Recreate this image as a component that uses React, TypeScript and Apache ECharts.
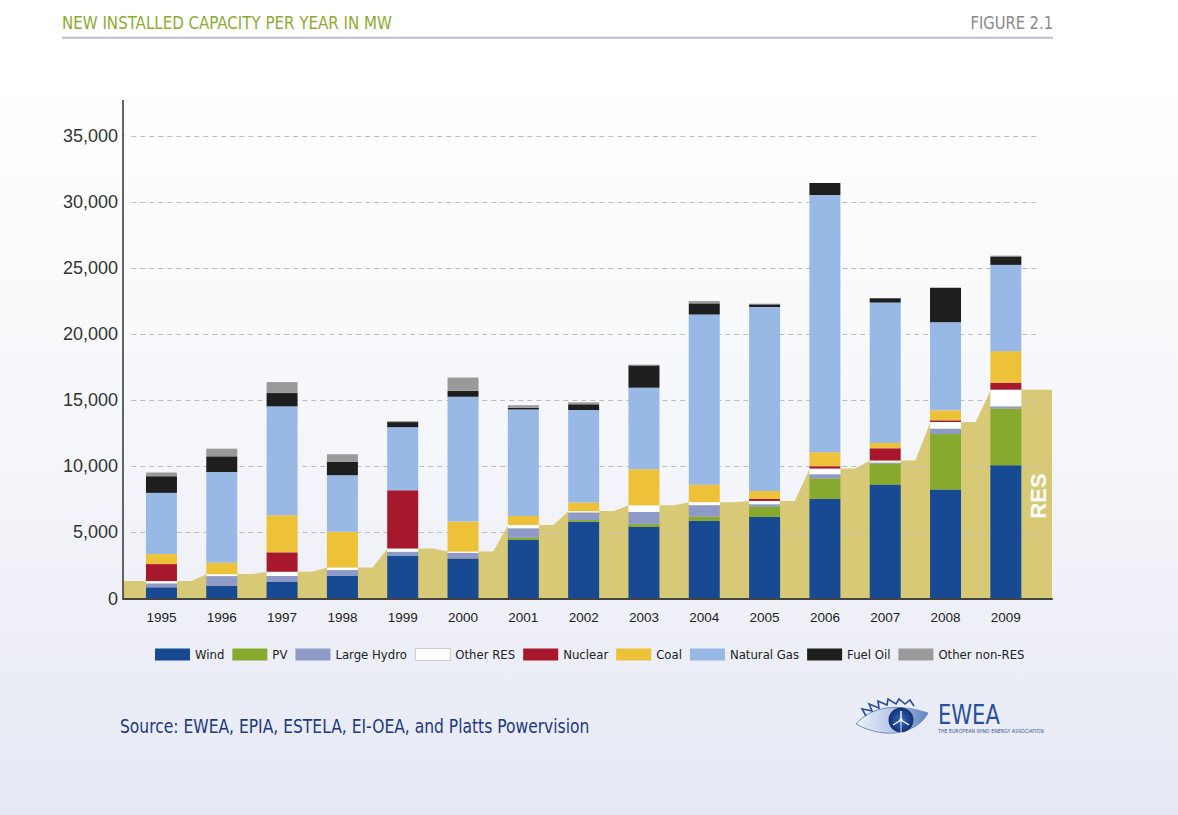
import React, { useEffect, useRef } from 'react';
import * as echarts from 'echarts';

// ---------- data (MW of new installed capacity per year) ----------
const years = ['1995', '1996', '1997', '1998', '1999', '2000', '2001', '2002', '2003', '2004', '2005', '2006', '2007', '2008', '2009'];
const wind = [845, 965, 1270, 1700, 3210, 3035, 4420, 5800, 5420, 5890, 6175, 7535, 8620, 8245, 10080];
const pv = [0, 0, 0, 0, 0, 0, 175, 130, 200, 300, 755, 1540, 1585, 4200, 4280];
const largeHydro = [300, 730, 430, 453, 325, 420, 710, 580, 930, 870, 200, 325, 80, 405, 175];
const otherRes = [175, 150, 325, 200, 250, 100, 250, 100, 505, 230, 250, 430, 150, 500, 1260];
const nuclear = [1285, 0, 1465, 0, 4400, 0, 0, 0, 0, 0, 150, 175, 930, 130, 530];
const coal = [755, 855, 2815, 2690, 0, 2265, 680, 650, 2720, 1320, 600, 1057, 400, 755, 2385];
const naturalGas = [4630, 6870, 8230, 4280, 4780, 9440, 8055, 7000, 6170, 12870, 13920, 19460, 10620, 6670, 6525];
const fuelOil = [1260, 1185, 1005, 1005, 380, 450, 130, 430, 1685, 845, 200, 906, 325, 2600, 640];
const otherNonRes = [280, 580, 830, 580, 75, 1005, 200, 150, 60, 170, 50, 0, 0, 0, 60];

const seriesNames = ['Wind', 'PV', 'Large Hydro', 'Other RES', 'Nuclear', 'Coal', 'Natural Gas', 'Fuel Oil', 'Other non-RES'];
const seriesValues = [wind, pv, largeHydro, otherRes, nuclear, coal, naturalGas, fuelOil, otherNonRes];
const seriesColors = ['#174a92', '#86a92e', '#8e9bc9', '#ffffff', '#a8182d', '#edc138', '#98b8e6', '#1e1e1e', '#9a9a9a'];

const yTicks = { min: 0, max: 35000, interval: 5000 };

const NARROW = '"Liberation Sans Narrow", "DejaVu Sans Condensed", "Arial Narrow", sans-serif';
const SANS = '"Liberation Sans", Arial, sans-serif';

// EWEA eye logo outline
const EYE_D = 'M0 24 C 12 10, 34 1, 72 13 C 63 31, 32 42, 0 24 Z';
echarts.graphic.registerShape('ewEye', echarts.graphic.extendPath(EYE_D, {}) as any);

export default function App() {
  const ref = useRef<HTMLDivElement>(null);

  useEffect(() => {
    document.body.style.margin = '0';
    const chart = echarts.init(ref.current!, null, { renderer: 'svg' });

    // RES total per year (wind + PV + large hydro + other RES)
    const resTotal = years.map((_, i) => wind[i] + pv[i] + largeHydro[i] + otherRes[i]);
    const yrs = years.map((y) => Number(y));
    const areaMin = 1994.362;
    const areaMax = 2009.766;
    const areaData: number[][] = [[areaMin, resTotal[0]]];
    yrs.forEach((y, i) => {
      areaData.push([y - 0.25, resTotal[i]]);
      areaData.push([i === yrs.length - 1 ? areaMax : y + 0.5, resTotal[i]]);
    });

    const barSeries = seriesNames.map((name, k) => ({
      name,
      type: 'bar',
      stack: 'total',
      xAxisIndex: 1,
      yAxisIndex: 1,
      barWidth: 31,
      z: 2,
      itemStyle: { color: seriesColors[k] },
      data: seriesValues[k],
    }));

    const option: any = {
      animation: false,
      backgroundColor: {
        type: 'linear', x: 0, y: 0, x2: 0, y2: 1,
        colorStops: [
          { offset: 0, color: '#ffffff' },
          { offset: 0.1, color: '#ffffff' },
          { offset: 0.55, color: '#f5f6fa' },
          { offset: 1, color: '#e6e8f4' },
        ],
      },
      grid: [
        { left: 123, right: 126, top: 135.8, bottom: 216.5 },
        { left: 131.3, width: 904.7, top: 135.8, bottom: 216.5 },
      ],
      xAxis: [
        {
          type: 'value', gridIndex: 0, min: areaMin, max: areaMax, z: 3,
          axisLine: { show: true, onZero: false, lineStyle: { color: '#444', width: 2 } },
          axisTick: { show: false }, axisLabel: { show: false }, splitLine: { show: false },
        },
        {
          type: 'category', gridIndex: 1, data: years,
          axisLine: { show: false }, axisTick: { show: false }, splitLine: { show: false },
          axisLabel: { margin: 12, fontSize: 13.5, color: '#222', fontFamily: SANS },
        },
      ],
      yAxis: [
        {
          type: 'value', gridIndex: 0, ...yTicks, z: 3,
          axisLine: { show: true, lineStyle: { color: '#333', width: 1.5 } },
          axisTick: { show: false }, splitLine: { show: false },
          axisLabel: {
            margin: 5, fontSize: 18, color: '#333', fontFamily: SANS,
            formatter: (v: number) => v.toLocaleString('en-US'),
          },
        },
        {
          type: 'value', gridIndex: 1, ...yTicks, z: 1.5,
          axisLine: { show: false }, axisTick: { show: false }, axisLabel: { show: false },
          splitLine: { show: true, lineStyle: { color: '#bcbcbc', width: 1, type: [5, 4] } },
        },
      ],
      legend: {
        left: 150, top: 643,
        itemWidth: 35, itemHeight: 12, itemGap: 8,
        icon: 'rect',
        textStyle: { fontFamily: NARROW, fontSize: 13, color: '#222' },
        data: seriesNames.map((n) =>
          n === 'Other RES'
            ? { name: n, itemStyle: { color: '#ffffff', borderColor: '#c8cbd6', borderWidth: 1 } }
            : { name: n }
        ),
      },
      series: [
        {
          name: 'RES',
          type: 'line',
          xAxisIndex: 0,
          yAxisIndex: 0,
          z: 1,
          symbol: 'none',
          silent: true,
          lineStyle: { width: 0 },
          areaStyle: { color: '#d8c977', opacity: 1 },
          data: areaData,
        },
        ...barSeries,
      ],
      graphic: [
        {
          type: 'text', x: 62, y: 23, scaleX: 0.93,
          style: { text: 'NEW INSTALLED CAPACITY PER YEAR IN MW', font: `18px ${NARROW}`, fill: '#8cab2f', verticalAlign: 'middle' },
        },
        {
          type: 'text', x: 1053, y: 23, scaleX: 0.91,
          style: { text: 'FIGURE 2.1', font: `18px ${NARROW}`, fill: '#8a8a8a', align: 'right', verticalAlign: 'middle' },
        },
        {
          type: 'line', shape: { x1: 62, y1: 37.7, x2: 1053, y2: 37.7 },
          style: { stroke: '#b7bdd3', lineWidth: 2 },
        },
        {
          type: 'line', shape: { x1: 123, y1: 100, x2: 123, y2: 136 },
          style: { stroke: '#333', lineWidth: 1.5 },
        },
        {
          type: 'text', x: 1038.5, y: 496, rotation: Math.PI / 2, z: 10,
          style: { text: 'RES', font: `bold 22px ${SANS}`, fill: '#ffffff', align: 'center', verticalAlign: 'middle' },
        },
        {
          type: 'text', x: 120, y: 726, scaleX: 0.864,
          style: { text: 'Source: EWEA, EPIA, ESTELA, EI-OEA, and Platts Powervision', font: `20px ${NARROW}`, fill: '#1d3a7e', verticalAlign: 'middle' },
        },
        {
          type: 'group', x: 856, y: 700,
          children: [
            {
              type: 'ewEye', x: 0, y: 0,
              style: {
                fill: new echarts.graphic.LinearGradient(0, 0, 1, 0, [
                  { offset: 0, color: '#eef2fa' },
                  { offset: 0.5, color: '#b7c7e6' },
                  { offset: 1, color: '#5f82c2' },
                ]),
                stroke: '#6f8fc8', lineWidth: 1,
              },
            },
            {
              type: 'circle', shape: { cx: 45, cy: 20, r: 12.5 },
              style: {
                fill: new echarts.graphic.RadialGradient(0.5, 0.5, 0.5, [
                  { offset: 0, color: '#3d6cc0' },
                  { offset: 1, color: '#102f72' },
                ]),
              },
            },
            { type: 'line', shape: { x1: 45, y1: 20, x2: 45, y2: 11 }, style: { stroke: '#fff', lineWidth: 1.4 } },
            { type: 'line', shape: { x1: 45, y1: 20, x2: 37, y2: 25 }, style: { stroke: '#fff', lineWidth: 1.4 } },
            { type: 'line', shape: { x1: 45, y1: 20, x2: 53, y2: 25 }, style: { stroke: '#fff', lineWidth: 1.4 } },
            { type: 'circle', shape: { cx: 45, cy: 20, r: 1.6 }, style: { fill: '#fff' } },
            { type: 'line', shape: { x1: 45, y1: 20, x2: 45, y2: 33 }, style: { stroke: '#e8eef8', lineWidth: 1 } },
            {
              type: 'polyline',
              shape: { points: [[10, 16], [6, 9], [16, 11], [13, 4], [23, 8], [22, 1], [31, 5], [32, -1], [40, 4], [43, -1], [49, 4], [54, 0], [58, 6]] },
              style: { stroke: '#2a4f98', lineWidth: 1.6, fill: 'none' },
            },
          ],
        },
        {
          type: 'text', x: 938, y: 715, scaleX: 0.9,
          style: { text: 'EWEA', font: `26px ${NARROW}`, fill: '#27509f', verticalAlign: 'middle' },
        },
        {
          type: 'text', x: 938, y: 731, scaleX: 0.94,
          style: { text: 'THE EUROPEAN WIND ENERGY ASSOCIATION', font: `5.6px ${NARROW}`, fill: '#3a5a9a', verticalAlign: 'middle' },
        },
      ],
    };

    chart.setOption(option);
    return () => chart.dispose();
  }, []);

  return <div ref={ref} style={{ width: 1178, height: 815 }} />;
}
